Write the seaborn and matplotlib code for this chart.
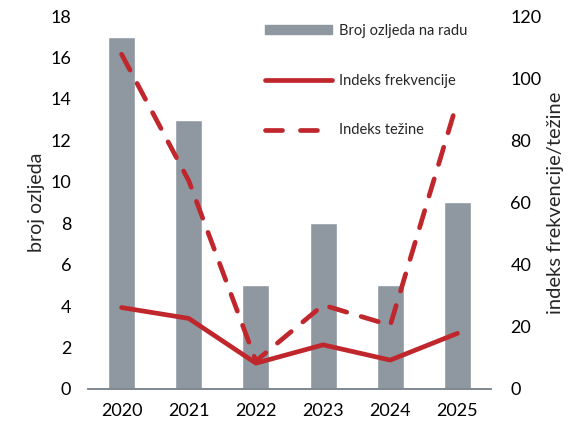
import numpy as np
import pandas as pd
import matplotlib
matplotlib.use('Agg')
import matplotlib.pyplot as plt
import seaborn as sns
from matplotlib.lines import Line2D
from matplotlib.patches import Patch

years = ['2020', '2021', '2022', '2023', '2024', '2025']
broj_ozljeda = [17, 13, 5, 8, 5, 9]
indeks_frekvencije = [26.2, 22.7, 8.3, 14.2, 9.3, 17.9]
indeks_tezine = [107.7, 67, 9, 27, 20.5, 92.5]

bar_color = '#8f98a1'
red = '#c0272d'

sns.set_style('white')
plt.rcParams['font.family'] = ['Lato', 'DejaVu Sans']

df = pd.DataFrame({'godina': years, 'broj': broj_ozljeda,
                   'frek': indeks_frekvencije, 'tez': indeks_tezine})
df['pos'] = np.arange(len(years))

fig, ax = plt.subplots(figsize=(5.77, 4.26), dpi=100)
fig.subplots_adjust(left=0.1525, right=0.851, top=0.9624, bottom=0.0869)

sns.barplot(data=df, x='godina', y='broj', color=bar_color, width=0.4,
            saturation=1, ax=ax)
ax.set_ylim(0, 18)
ax.set_yticks(range(0, 19, 2))
ax.set_xlim(-0.5, 5.5)
ax.set_xlabel('')
ax.set_ylabel('broj ozljeda', fontsize=14)

lw = 3.4
ax2 = ax.twinx()
sns.lineplot(data=df, x='pos', y='frek', color=red, lw=lw, ax=ax2)
sns.lineplot(data=df, x='pos', y='tez', color=red, lw=lw, ax=ax2)
ax2.lines[1].set_dashes((3.8, 3.2))
ax2.lines[1].set_dash_capstyle('round')
ax2.set_ylim(0, 120)
ax2.set_yticks(range(0, 121, 20))
ax2.set_xlim(-0.5, 5.5)
ax2.set_ylabel('indeks frekvencije/težine', fontsize=14.5)

for a in (ax, ax2):
    for s in ('top', 'left', 'right'):
        a.spines[s].set_visible(False)
    a.spines['bottom'].set_color('#7f8790')
    a.spines['bottom'].set_linewidth(1.2)
    a.tick_params(length=0, labelsize=13, colors='black')
ax.tick_params(axis='x', pad=10)
ax.tick_params(axis='y', pad=12)
ax2.tick_params(axis='y', pad=14)

handles = [Patch(color=bar_color),
           Line2D([], [], color=red, lw=lw),
           Line2D([], [], color=red, lw=lw, dashes=(3.6, 3.8), dash_capstyle='round')]
labels = ['Broj ozljeda na radu', 'Indeks frekvencije', 'Indeks težine']
ax2.legend(handles, labels, loc='upper left', bbox_to_anchor=(0.437, 0.975),
           bbox_transform=fig.transFigure, frameon=False, fontsize=10.5,
           handlelength=4.6, handleheight=0.5, labelspacing=2.45, handletextpad=0.45)

fig.savefig('out.png', dpi=100)
